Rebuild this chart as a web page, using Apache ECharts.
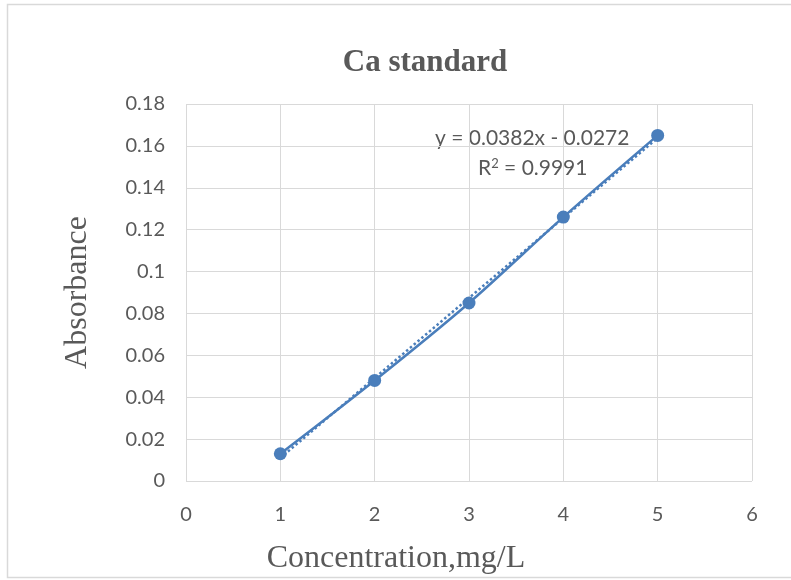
<!DOCTYPE html>
<html>
<head>
<meta charset="utf-8">
<script src="https://cdn.jsdelivr.net/npm/echarts@6/dist/echarts.min.js"></script>
<style>
  html, body { margin: 0; padding: 0; background: #fff; }
  #chart { width: 791px; height: 580px; }
</style>
</head>
<body>
<div id="chart"></div>
<script>
// data
var concentration = [1, 2, 3, 4, 5];
var absorbance = [0.013, 0.048, 0.085, 0.126, 0.165];
// linear trendline as printed on the chart
var trendSlope = 0.0382;
var trendIntercept = -0.0272;
var trendX = [1, 5];

var points = concentration.map(function (x, i) { return [x, absorbance[i]]; });
var trendPoints = trendX.map(function (x) { return [x, trendSlope * x + trendIntercept]; });

var blue = '#4a7ebb';
var grey = '#595959';

var chart = echarts.init(document.getElementById('chart'));

var option = {
  animation: false,
  title: {
    text: 'Ca standard',
    left: 420,
    top: 42,
    textAlign: 'center',
    textStyle: { fontFamily: 'Liberation Serif', fontWeight: 'bold', fontSize: 31, color: grey }
  },
  grid: { left: 186, right: 39, top: 104, bottom: 97 },
  xAxis: {
    type: 'value',
    min: 0, max: 6, interval: 1,
    name: 'Concentration,mg/L',
    nameLocation: 'middle',
    nameGap: 62,
    nameTextStyle: { fontFamily: 'Liberation Serif', fontSize: 32, color: grey, padding: [0, 146, 0, 0] },
    axisLine: { show: false },
    axisTick: { show: false },
    axisLabel: { fontFamily: 'Lato', fontSize: 20, color: grey, margin: 24 },
    splitLine: { show: true, lineStyle: { color: '#d9d9d9', width: 1 } }
  },
  yAxis: {
    type: 'value',
    min: 0, max: 0.18, interval: 0.02,
    name: 'Absorbance',
    nameLocation: 'middle',
    nameGap: 92,
    nameTextStyle: { fontFamily: 'Liberation Serif', fontSize: 32, color: grey },
    axisLine: { show: false },
    axisTick: { show: false },
    axisLabel: { fontFamily: 'Lato', fontSize: 20, color: grey, margin: 21 },
    splitLine: { show: true, lineStyle: { color: '#d9d9d9', width: 1 } }
  },
  series: [
    {
      name: 'trend',
      type: 'line',
      data: trendPoints,
      symbol: 'none',
      lineStyle: { color: blue, width: 2.5, type: 'dotted' },
      z: 2
    },
    {
      name: 'Ca',
      type: 'line',
      data: points,
      smooth: 0.3,
      symbol: 'circle',
      symbolSize: 13,
      itemStyle: { color: blue },
      lineStyle: { color: blue, width: 2.5 },
      z: 3
    }
  ],
  graphic: [
    {
      type: 'rect',
      shape: { x: 7.5, y: 4.5, width: 800, height: 573 },
      style: { fill: 'none', stroke: '#d9d9d9', lineWidth: 1.5 },
      silent: true
    },
    {
      type: 'text',
      left: 435, top: 128,
      style: { text: 'y = 0.0382x - 0.0272', font: '21px Lato', fill: grey }
    },
    {
      type: 'text',
      left: 478, top: 157,
      style: {
        text: 'R{s|2} = 0.9991',
        font: '21px Lato',
        fill: grey,
        rich: { s: { fontSize: 13, fontFamily: 'Lato', fill: grey, verticalAlign: 'top', padding: [0, 0, 9, 0] } }
      }
    }
  ]
};

chart.setOption(option);
</script>
</body>
</html>
